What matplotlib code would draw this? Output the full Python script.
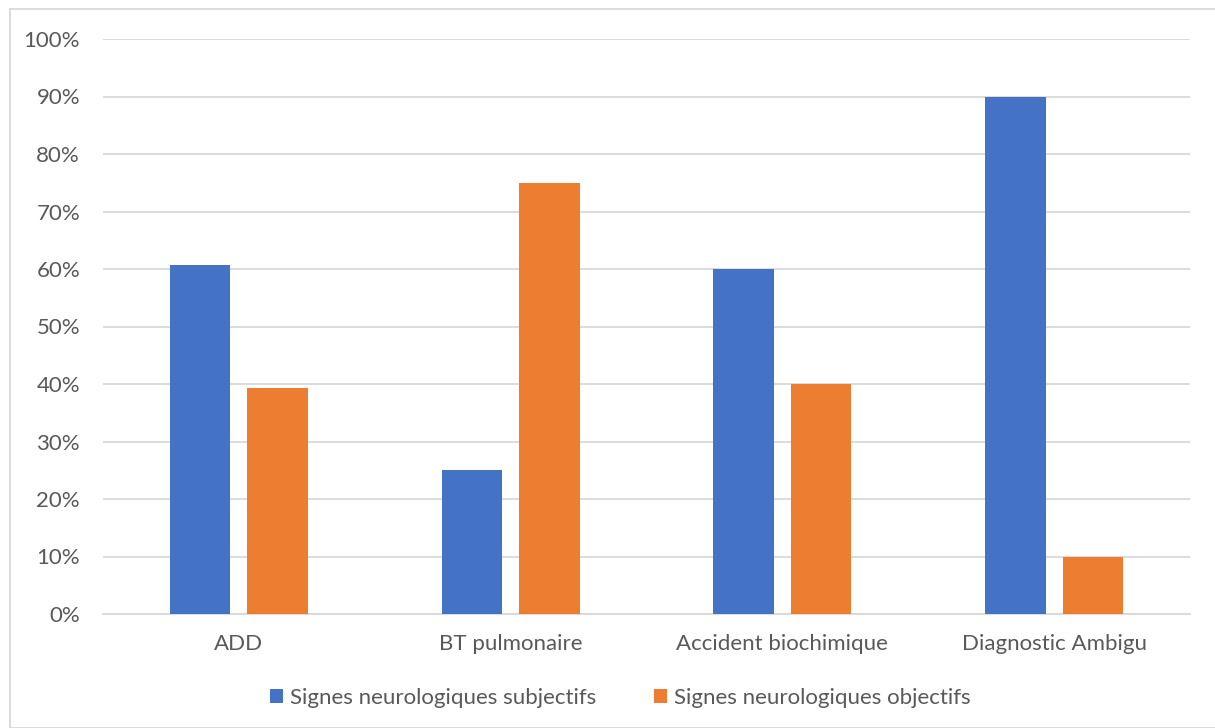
import matplotlib
matplotlib.use("Agg")
import matplotlib.pyplot as plt
import numpy as np
from matplotlib.patches import Rectangle

categories = ["ADD", "BT pulmonaire", "Accident biochimique", "Diagnostic Ambigu"]
subjectifs = [60.7, 25.0, 60.0, 90.0]
objectifs = [39.3, 75.0, 40.0, 10.0]
series_names = ["Signes neurologiques subjectifs", "Signes neurologiques objectifs"]
yticks = [0, 10, 20, 30, 40, 50, 60, 70, 80, 90, 100]

plt.rcParams['font.family'] = ['Lato', 'DejaVu Sans']
W, H = 1215, 728
fig = plt.figure(figsize=(W/100, H/100), dpi=100)
ax = fig.add_axes([103/W, 1-614/H, (1190-103)/W, (614-39)/H])

x = np.arange(len(categories))
bw = 0.222
off = 0.1425
b1 = ax.bar(x - off, subjectifs, bw, color="#4472C4", zorder=3, label=series_names[0])
b2 = ax.bar(x + off, objectifs, bw, color="#ED7D31", zorder=3, label=series_names[1])

fs = 16
ax.set_xlim(-0.5, len(categories) - 0.5)
ax.set_ylim(0, 100)
ax.set_yticks(yticks)
ax.set_yticklabels([f"{v}%" for v in yticks])
ax.set_xticks(x)
ax.set_xticklabels(categories)
ax.yaxis.grid(True, color="#D9D9D9", linewidth=1.3, zorder=0)
for s in ["top", "right", "left"]:
    ax.spines[s].set_visible(False)
ax.spines["bottom"].set_color("#D9D9D9")
ax.spines["bottom"].set_linewidth(1.3)
ax.tick_params(axis="both", length=0, colors="#595959", labelsize=fs)
ax.tick_params(axis="y", pad=16.5)
ax.tick_params(axis="x", pad=14.5)

leg = fig.legend(handles=[b1, b2], loc="center", bbox_to_anchor=(620/W, 1-698/H), ncol=2,
                 frameon=False, fontsize=fs, handlelength=0.6, handleheight=0.6,
                 handletextpad=0.3, columnspacing=2.6)
for t in leg.get_texts():
    t.set_color("#595959")

fig.patches.append(Rectangle((10/W, 0), (W)/W, 1-9/H, transform=fig.transFigure,
                             fill=False, edgecolor="#D9D9D9", linewidth=1.3))

fig.savefig("out.png", dpi=100)
